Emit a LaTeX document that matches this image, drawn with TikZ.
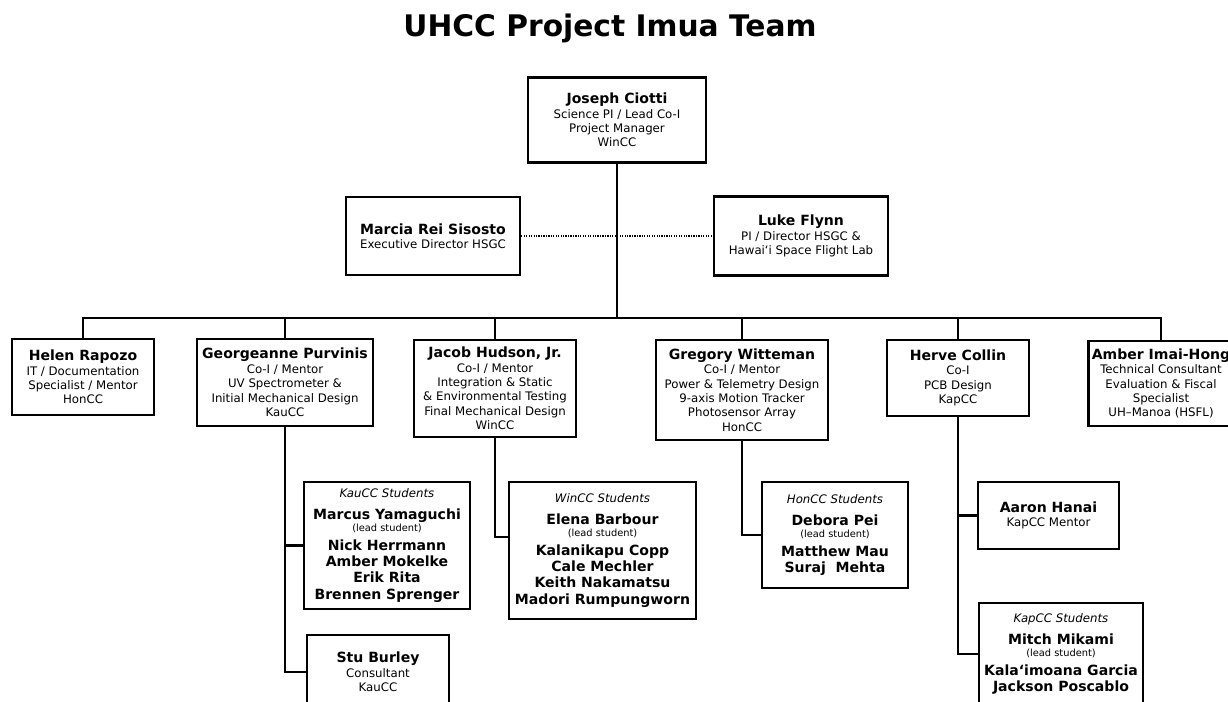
\documentclass[tikz,border=0pt]{standalone}
\usepackage{fontspec}
\setmainfont{DejaVu Sans}
\usepackage{tikz}
\usetikzlibrary{positioning}
\tikzset{
  member/.style={rectangle, draw=black, line width=1.4pt, fill=white,
    align=center, inner sep=2pt, font=\fontsize{6.7}{8.2}\selectfont},
  students/.style={member, font=\fontsize{6.7}{9.3}\selectfont},
  link/.style={line width=1.4pt, draw=black},
  partner/.style={line width=1.5pt, dash pattern=on 0.7pt off 0.7pt}
}
\newcommand{\who}[1]{{\fontsize{8}{9.3}\selectfont\bfseries #1}}
\newcommand{\campus}[1]{{\itshape #1}}
\newcommand{\leadst}{{\fontsize{5.6}{6.5}\selectfont (lead student)}}

\begin{document}
\begin{tikzpicture}[x=0.02cm, y=-0.02cm]
  \useasboundingbox (0,0) rectangle (1228,701);
  \node[anchor=base, font=\fontsize{16.9}{20}\selectfont\bfseries] (title) at (610,36) {UHCC Project Imua Team};

  % leadership
  \node[member, minimum width=3.56cm, minimum height=1.7cm] (ciotti) at (617,120) {\who{Joseph Ciotti}\\ Science PI / Lead Co-I\\ Project Manager\\ WinCC};
  \node[member, minimum width=3.48cm, minimum height=1.56cm] (sisosto) at (433,236) {\who{Marcia Rei Sisosto}\\ Executive Director HSGC};
  \node[member, minimum width=3.48cm, minimum height=1.58cm] (flynn) at (801,236) {\who{Luke Flynn}\\ PI / Director HSGC \&\\ Hawai‘i Space Flight Lab};

  % mentors row
  \node[member, minimum width=2.84cm, minimum height=1.52cm] (rapozo) at (83,377) {\who{Helen Rapozo}\\ IT / Documentation\\ Specialist / Mentor\\ HonCC};
  \node[member, minimum width=3.52cm, minimum height=1.74cm] (purvinis) at (285,382.5) {\who{Georgeanne Purvinis}\\ Co-I / Mentor\\ UV Spectrometer \&\\ Initial Mechanical Design\\ KauCC};
  \node[member, minimum width=3.24cm, minimum height=1.94cm] (hudson) at (495,388.5) {\who{Jacob Hudson, Jr.}\\ Co-I / Mentor\\ Integration \& Static\\ \& Environmental Testing\\ Final Mechanical Design\\ WinCC};
  \node[member, minimum width=3.44cm, minimum height=2.0cm] (witteman) at (742,390) {\who{Gregory Witteman}\\ Co-I / Mentor\\ Power \& Telemetry Design\\ 9-axis Motion Tracker\\ Photosensor Array\\ HonCC};
  \node[member, minimum width=2.84cm, minimum height=1.52cm] (collin) at (958,378) {\who{Herve Collin}\\ Co-I\\ PCB Design\\ KapCC};
  \node[member, minimum width=2.88cm, minimum height=1.7cm] (imaihong) at (1161,383.5) {\who{Amber Imai-Hong}\\ Technical Consultant\\ Evaluation \& Fiscal\\ Specialist\\ UH–Manoa (HSFL)};

  % student teams
  \node[students, minimum width=3.32cm, minimum height=2.54cm] (kaucc) at (387,545.5) {\campus{KauCC Students}\\[3.1pt] \who{Marcus Yamaguchi}\\[-2.5pt] \leadst\\[1.4pt] \who{Nick Herrmann}\\ \who{Amber Mokelke}\\ \who{Erik Rita}\\ \who{Brennen Sprenger}};
  \node[students, minimum width=3.74cm, minimum height=2.74cm] (wincc) at (602.5,550.5) {\campus{WinCC Students}\\[3.1pt] \who{Elena Barbour}\\[-2.5pt] \leadst\\[1.4pt] \who{Kalanikapu Copp}\\ \who{Cale Mechler}\\ \who{Keith Nakamatsu}\\ \who{Madori Rumpungworn}};
  \node[students, minimum width=2.92cm, minimum height=2.12cm] (honcc) at (835,535) {\campus{HonCC Students}\\[3.1pt] \who{Debora Pei}\\[-2.5pt] \leadst\\[1.4pt] \who{Matthew Mau}\\ \who{Suraj\ \ Mehta}};
  \node[member, minimum width=2.82cm, minimum height=1.34cm] (hanai) at (1048.5,515.5) {\who{Aaron Hanai}\\ KapCC Mentor};
  \node[students, minimum width=3.28cm, minimum height=2.04cm] (kapcc) at (1061,654) {\campus{KapCC Students}\\[3.1pt] \who{Mitch Mikami}\\[-2.5pt] \leadst\\[1.4pt] \who{Kala‘imoana Garcia}\\ \who{Jackson Poscablo}};
  \node[member, minimum width=2.84cm, minimum height=1.48cm] (burley) at (378,672) {\who{Stu Burley}\\ Consultant\\ KauCC};

  % connectors
  \coordinate (bus) at (617,318);
  \draw[partner] (sisosto.east) -- (flynn.west);
  \draw[link] (ciotti.south) -- (bus);
  \draw[link] (rapozo.north) -- (rapozo.north |- bus) -- (imaihong.north |- bus) -- (imaihong.north);
  \foreach \n in {purvinis, hudson, witteman, collin}
    \draw[link] (\n.north) -- (\n.north |- bus);
  \draw[link] (purvinis.south) |- (burley.west);
  \draw[link] (purvinis.south |- kaucc.west) -- (kaucc.west);
  \draw[link] (hudson.south) |- ([yshift=0.27cm]wincc.west);
  \draw[link] (witteman.south) |- (honcc.west);
  \draw[link] (collin.south) |- (kapcc.west);
  \draw[link] (collin.south |- hanai.west) -- (hanai.west);
\end{tikzpicture}
\end{document}
